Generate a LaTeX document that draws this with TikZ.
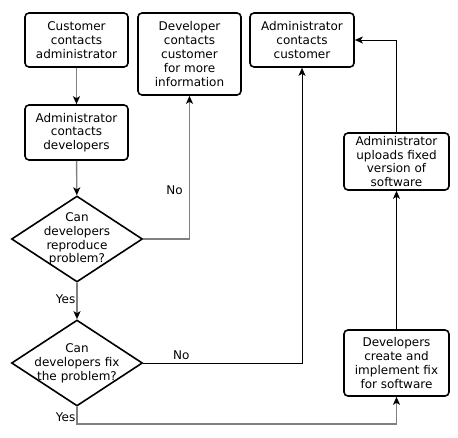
\documentclass[tikz,border=0pt]{standalone}
\usepackage{fontspec}
\setmainfont{DejaVu Sans}
\usetikzlibrary{shapes.geometric,arrows.meta}

\begin{document}
\begin{tikzpicture}[x=1pt,y=-1pt,
  font=\fontsize{12}{13.8}\selectfont,
  step box/.style={draw,line width=1.6pt,rounded corners=4pt,align=center,inner sep=0pt},
  decision/.style={draw,line width=1.6pt,diamond,aspect=1.52,minimum width=131pt,minimum height=86pt,
    text width=90pt,align=center,inner sep=-9pt},
  flow/.style={draw=gray,line width=1.4pt,-{Stealth[length=8pt,width=7pt,inset=2pt,black]}},
  link/.style={draw=black,line width=0.8pt,-{Stealth[length=8pt,width=7pt,inset=2pt,black]}}]
\useasboundingbox (0,0) rectangle (458,437);

\node[step box,minimum width=103pt,minimum height=54pt] (cust) at (76.5,40) {Customer\\contacts\\administrator};
\node[step box,minimum width=103pt,minimum height=55pt] (adm) at (76.5,132.5) {Administrator\\contacts\\developers};
\node[decision] (repro) at (77,239) {Can\\developers\\reproduce\\problem?};
\node[decision] (canfix) at (77,363) {Can\\developers fix\\the problem?};
\node[step box,minimum width=103pt,minimum height=82pt] (info) at (189.5,54) {Developer\\contacts\\customer\\for more\\information};
\node[step box,minimum width=104pt,minimum height=54pt] (admcust) at (302,40) {Administrator\\contacts\\customer};
\node[step box,minimum width=105pt,minimum height=57pt] (upload) at (396.5,161.5) {Administrator\\uploads fixed\\version of\\software};
\node[step box,minimum width=105pt,minimum height=66pt] (fix) at (396.5,363) {Developers\\create and\\implement fix\\for software};
\coordinate (yesturn) at (396.5,424);

\draw[flow] (cust) -- (adm);
\draw[flow] (adm) -- (repro);
\draw[flow] (repro.south) -- node[left,inner sep=1pt,pos=0.45] {Yes} (canfix.north);
\draw[flow] (repro.east) -| node[left,pos=0.67,inner sep=6pt] {No} (info.south);
\draw[link] (canfix.east) -| node[above,pos=0.12] {No} (admcust.south);
\draw[flow] (canfix.south) |- node[left,pos=0.3,inner sep=1pt] {Yes} (yesturn) -- (fix.south);
\draw[link] (fix) -- (upload);
\draw[link] (upload.north) |- (admcust.east);
\end{tikzpicture}
\end{document}
